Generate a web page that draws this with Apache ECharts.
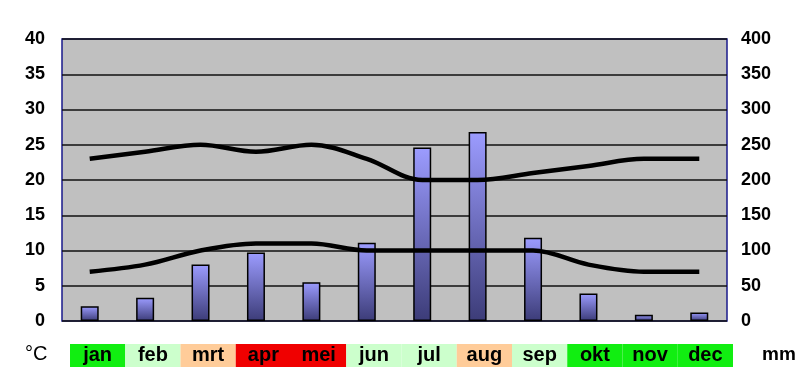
<!DOCTYPE html>
<html>
<head>
<meta charset="utf-8">
<script src="https://cdn.jsdelivr.net/npm/echarts@6/dist/echarts.min.js"></script>
<style>
html,body{margin:0;padding:0;background:#fff;}
#c{width:800px;height:391px;}
</style>
</head>
<body>
<div id="c"></div>
<script>
const months = ['jan','feb','mrt','apr','mei','jun','jul','aug','sep','okt','nov','dec'];
const rainMm = [21, 33, 80, 97, 55, 111, 246, 268, 118, 39, 9, 12];
const maxTemp = [23, 24, 25, 24, 25, 23, 20, 20, 21, 22, 23, 23];
const minTemp = [7, 8, 10, 11, 11, 10, 10, 10, 10, 8, 7, 7];
const monthColors = ['#11ee11','#ccffcc','#ffcc99','#f00000','#f00000','#ccffcc','#ccffcc','#ffcc99','#ccffcc','#11ee11','#11ee11','#11ee11'];
const tempTicks = [0,5,10,15,20,25,30,35,40];
const rainTicks = [0,50,100,150,200,250,300,350,400];

const FONT = '"Liberation Sans", Arial, sans-serif';
const chart = echarts.init(document.getElementById('c'), null, {renderer:'canvas'});
chart.setOption({
  animation: false,
  grid: [
    {left: 62, right: 73, top: 39, bottom: 70, show: true, backgroundColor: '#c0c0c0', borderColor: '#1a1a8c', borderWidth: 1.5},
    {left: 70, right: 67, top: 344, height: 23}
  ],
  xAxis: [
    {type: 'category', gridIndex: 0, data: months, axisLine: {show: false}, axisTick: {show: false}, axisLabel: {show: false}, splitLine: {show: false}},
    {type: 'category', gridIndex: 1, data: months, axisLine: {show: false}, axisTick: {show: false}, axisLabel: {show: false}}
  ],
  yAxis: [
    {type: 'value', gridIndex: 0, min: tempTicks[0], max: tempTicks[tempTicks.length-1], interval: 5,
     axisLine: {show: false}, axisTick: {show: false},
     axisLabel: {margin: 17, color: '#000', fontFamily: FONT, fontWeight: 'bold', fontSize: 18},
     splitLine: {show: true, lineStyle: {color: '#111', width: 1.5}}},
    {type: 'value', gridIndex: 0, position: 'right', min: rainTicks[0], max: rainTicks[rainTicks.length-1], interval: 50,
     axisLine: {show: false}, axisTick: {show: false},
     axisLabel: {margin: 14, color: '#000', fontFamily: FONT, fontWeight: 'bold', fontSize: 18},
     splitLine: {show: false}},
    {type: 'value', gridIndex: 1, min: 0, max: 1, show: false}
  ],
  series: [
    {type: 'bar', xAxisIndex: 0, yAxisIndex: 1, data: rainMm, barWidth: 18, z: 2,
     itemStyle: {borderColor: '#000', borderWidth: 1.5,
       color: new echarts.graphic.LinearGradient(0,0,0,1,[{offset:0,color:'#9c9cff'},{offset:1,color:'#3c3c78'}])}},
    {type: 'line', xAxisIndex: 0, yAxisIndex: 0, data: maxTemp, smooth: 0.35, symbol: 'none', z: 3,
     lineStyle: {color: '#000', width: 4.5}},
    {type: 'line', xAxisIndex: 0, yAxisIndex: 0, data: minTemp, smooth: 0.35, symbol: 'none', z: 3,
     lineStyle: {color: '#000', width: 4.5}},
    {type: 'bar', xAxisIndex: 1, yAxisIndex: 2, barWidth: '100%', barGap: 0,
     data: months.map((m, i) => ({value: 1, itemStyle: {color: monthColors[i]}})),
     label: {show: true, position: 'inside', formatter: p => months[p.dataIndex], color: '#000',
       fontFamily: FONT, fontWeight: 'bold', fontSize: 20}}
  ],
  graphic: [
    {type: 'text', left: 25, top: 344, style: {text: '°C', font: '20px ' + FONT, fill: '#000'}},
    {type: 'text', left: 762, top: 345, style: {text: 'mm', font: 'bold 19px ' + FONT, fill: '#000'}}
  ]
});
</script>
</body>
</html>
